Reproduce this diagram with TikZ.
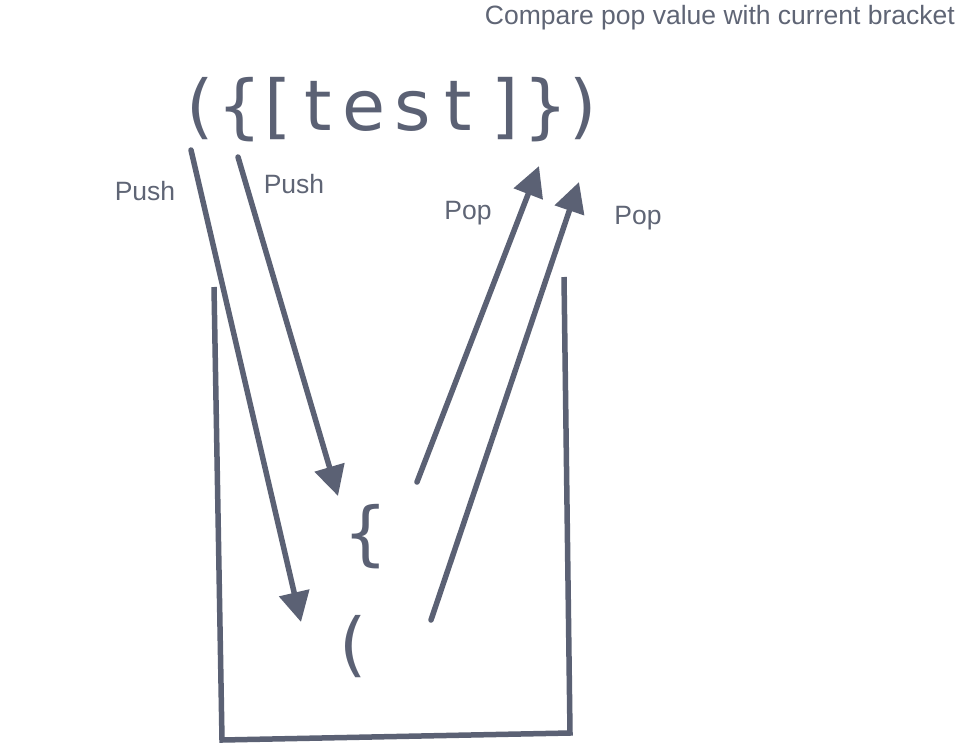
\documentclass[tikz,border=0pt]{standalone}
\usepackage{fontspec}
\setmainfont{Liberation Sans}
\newfontfamily\bigfont{DejaVu Sans}
\usetikzlibrary{arrows.meta}
\definecolor{ink}{HTML}{5B6174}
\definecolor{labelink}{HTML}{5F6575}
\tikzset{
  stroke/.style={draw=ink, line width=5.5pt, line cap=round},
  arr/.style={stroke, -{Triangle[length=30pt,width=30pt]}},
  bigch/.style={inner sep=0pt, anchor=base, text=ink, font=\bigfont\fontsize{70}{72}\selectfont},
  lbl/.style={inner sep=0pt, text=labelink, font=\fontsize{26.5}{28}\selectfont},
}
\begin{document}
\begin{tikzpicture}[x=1pt,y=-1pt]
\useasboundingbox[fill=white] (0,0) rectangle (980,753);
% title
\node[lbl, anchor=east] (title) at (955,18) {Compare pop value with current bracket};
% big text
\node[bigch] (c1) at (200,130) {(};
\node[bigch] (c2) at (240,130) {\{};
\node[bigch] (c3) at (278,130) {[};
\node[bigch] (c4) at (318,130) {t};
\node[bigch] (c5) at (364,130) {e};
\node[bigch] (c6) at (413,130) {s};
\node[bigch] (c7) at (458,130) {t};
\node[bigch] (c8) at (505,130) {]};
\node[bigch] (c9) at (546,130) {\}};
\node[bigch] (c10) at (583,130) {)};
% stack contents
\node[bigch] (s1) at (366,557) {\{};
\node[bigch] (s2) at (353,668) {(};
% stack box
\coordinate (bl0) at (214,287);
\coordinate (bl1) at (222,740);
\coordinate (br1) at (570,733);
\coordinate (br0) at (564,277);
\draw[stroke, line cap=butt, line join=miter] (bl0) -- (bl1) -- (br1) -- (br0);
% push arrows
\coordinate (p1s) at (191,150);
\coordinate (p1e) at (301,622);
\coordinate (p2s) at (238,157);
\coordinate (p2e) at (338,496);
\draw[arr] (p1s) -- (p1e);
\draw[arr] (p2s) -- (p2e);
% pop arrows
\coordinate (q1s) at (417,482);
\coordinate (q1e) at (539,166);
\coordinate (q2s) at (431,620);
\coordinate (q2e) at (579,182);
\draw[arr] (q1s) -- (q1e);
\draw[arr] (q2s) -- (q2e);
% labels
\node[lbl] (l1) at (145,191) {Push};
\node[lbl] (l2) at (294,184) {Push};
\node[lbl] (l3) at (468,213) {Pop};
\node[lbl] (l4) at (638,218) {Pop};
\end{tikzpicture}
\end{document}
